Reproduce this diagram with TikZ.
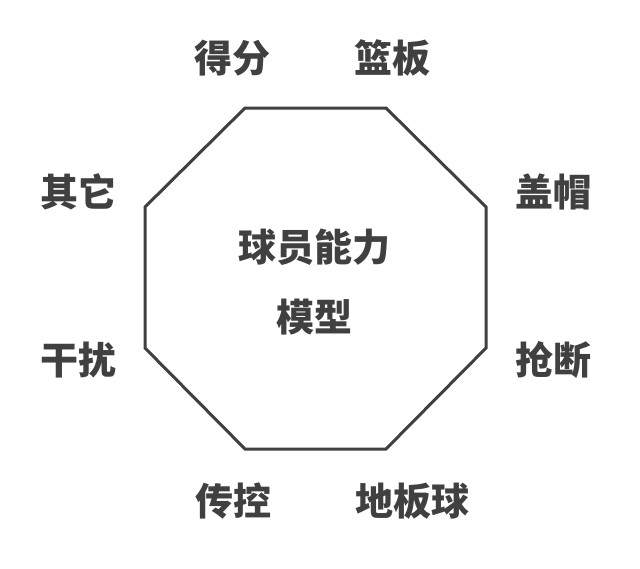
\documentclass[tikz,border=0pt]{standalone}
\usepackage{fontspec}
\newfontfamily\cjk{Noto Sans CJK SC}
\usepackage{tikz}
\usetikzlibrary{positioning}
\definecolor{ink}{HTML}{404040}
\tikzset{
    lbl/.style={text=ink, font=\cjk\bfseries\fontsize{38}{44}\selectfont, inner sep=0pt},
}

\begin{document}
\begin{tikzpicture}[x=1pt, y=-1pt]
    \useasboundingbox (0,0) rectangle (640,568);
    \fill[white] (0,0) rectangle (640,568);
    % octagon corners
    \coordinate (A) at (245,108);
    \coordinate (B) at (386,108);
    \coordinate (C) at (486,207);
    \coordinate (D) at (486,348);
    \coordinate (E) at (386,449);
    \coordinate (F) at (245,449);
    \coordinate (G) at (145,348);
    \coordinate (H) at (145,207);
    \draw[ink, line width=3pt, line join=miter] (A) -- (B) -- (C) -- (D) -- (E) -- (F) -- (G) -- (H) -- cycle;
    \node[lbl, align=center, font=\cjk\bfseries\fontsize{38}{70}\selectfont] (model) at (314,282) {球员能力\\模型};
    \node[lbl] (score) at (232,58) {得分};
    \node[lbl] (rebound) at (392,58) {篮板};
    \node[lbl] (block) at (553,192) {盖帽};
    \node[lbl] (steal) at (553,360) {抢断};
    \node[lbl] (ground) at (412,501) {地板球};
    \node[lbl] (pass) at (233,501) {传控};
    \node[lbl] (disrupt) at (78,360) {干扰};
    \node[lbl] (other) at (78,192) {其它};
\end{tikzpicture}
\end{document}
